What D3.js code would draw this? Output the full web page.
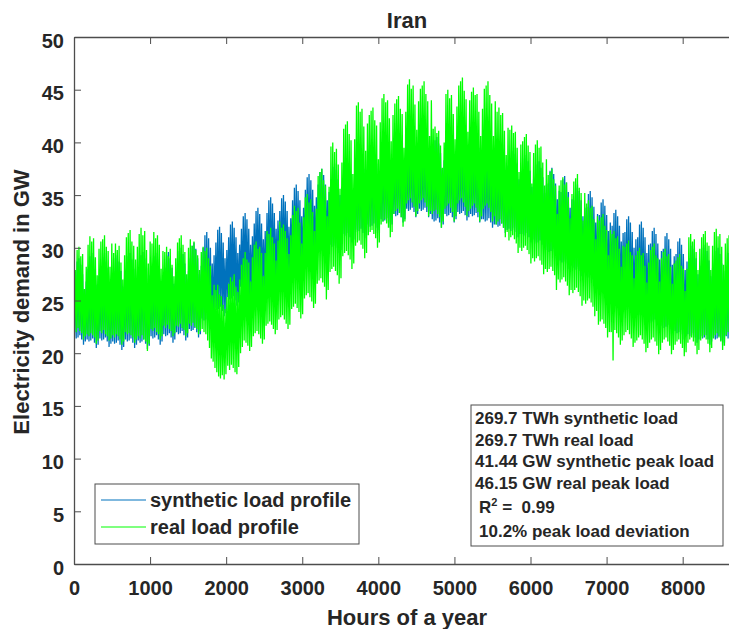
<!DOCTYPE html>
<html>
<head>
<meta charset="utf-8">
<script src="https://cdn.jsdelivr.net/npm/d3@7"></script>
<style>
body { margin: 0; background: #fff; }
text { font-family: "Liberation Sans", Arial, Helvetica, sans-serif; font-weight: bold; fill: #262626; }
</style>
</head>
<body>
<svg id="chart" width="729" height="629"></svg>
<script>
// daily low / daily high of the real profile (GW), two weeks per row
const realMin = [
  22.3,22.0,22.4,22.1,21.9,21.3,21.6, 21.8,21.6,21.9,21.7,21.5,20.9,21.2,
  22.1,21.9,22.2,21.8,21.6,21.2,21.4, 21.7,21.5,21.8,21.6,21.3,20.8,21.1,
  22.0,21.8,21.9,21.7,21.5,21.0,21.3, 21.6,21.4,21.7,21.3,21.1,20.2,20.9,
  22.3,22.1,22.4,22.0,21.8,21.3,21.6, 22.6,22.4,22.7,22.3,22.1,21.6,21.9,
  22.6,22.5,22.8,22.4,22.2,21.6,21.9, 22.8,22.6,22.9,22.5,22.3,21.8,22.1,
  22.3,22.0,21.8,21.2,20.5,19.5,19.2, 18.6,18.2,17.8,17.6,17.9,17.5,18.0,
  18.8,18.4,18.9,18.6,18.2,18.0,18.7, 20.0,20.6,21.2,21.0,20.7,20.2,20.6,
  21.6,21.9,22.1,21.8,21.4,20.9,21.3, 22.6,22.8,23.0,22.7,22.3,21.8,22.2,
  23.2,23.4,23.6,23.2,22.8,22.3,22.7, 24.2,24.4,24.7,24.3,23.9,23.3,23.7,
  25.2,25.5,25.7,25.3,24.9,24.3,24.7, 26.6,26.9,27.1,26.7,26.3,25.1,26.0,
  27.7,28.0,28.2,27.8,27.4,26.6,27.1, 29.2,29.5,29.7,29.3,28.9,28.0,28.5,
  30.2,30.5,30.7,30.3,29.9,29.0,29.5, 31.2,31.5,31.7,31.3,30.9,30.0,30.5,
  32.2,32.5,32.7,32.3,31.9,31.0,31.5, 33.2,33.5,33.7,33.3,32.9,32.0,32.5,
  34.2,34.5,34.7,34.3,33.9,33.0,33.5, 34.2,34.5,34.7,34.3,33.9,33.0,33.5,
  33.2,33.5,33.6,33.2,32.9,31.9,32.5, 33.7,34.0,34.2,33.8,33.4,32.5,33.0,
  34.2,34.5,34.7,34.3,33.9,33.0,33.5, 33.7,34.0,34.2,33.8,33.4,32.5,33.0,
  33.7,34.0,34.2,33.8,33.4,32.5,33.0, 32.2,32.5,32.7,32.3,31.9,31.0,31.5,
  30.7,31.0,31.2,30.8,30.4,29.5,30.0, 29.7,30.0,30.2,29.8,29.4,28.5,29.0,
  28.7,29.0,29.2,28.8,28.4,27.5,28.0, 27.7,28.0,28.2,27.8,27.4,26.0,27.0,
  26.7,27.0,27.2,26.8,26.4,25.5,26.0, 25.7,26.0,26.2,25.8,25.4,24.5,25.0,
  24.7,25.0,25.2,24.8,24.4,23.5,24.0, 22.7,23.0,23.2,22.8,22.4,21.5,22.0,
  22.0,19.3,22.2,21.9,21.5,20.8,21.2, 21.7,22.0,22.2,21.8,21.4,20.6,21.0,
  21.2,21.5,21.7,21.3,20.9,20.1,20.5, 21.0,21.3,21.5,21.1,20.7,19.9,20.3,
  21.0,21.3,21.5,21.1,20.7,19.9,20.3, 20.8,21.1,21.3,20.9,20.5,19.7,20.1,
  21.0,21.3,21.5,21.1,20.7,19.9,20.3, 21.2,21.5,21.7,21.3,20.9,20.1,20.5,
  21.4,21.7,21.9,21.5,21.1,20.3,20.7, 21.7,22.0,22.2,21.8,21.4,20.6,21.0,
  21.5
]
const realMax = [
  27.9,29.8,30.1,29.2,29.4,26.1,28.2, 30.3,31.1,30.6,30.9,29.1,27.4,29.9,
  30.6,30.8,31.2,30.1,29.7,28.2,30.4, 29.5,30.4,29.8,30.2,28.6,27.0,29.3,
  31.0,31.4,31.7,30.6,30.2,28.9,30.1, 31.3,31.9,31.2,31.6,29.8,28.5,30.6,
  30.4,31.5,30.9,31.2,30.3,28.0,29.7, 29.6,30.1,29.2,29.9,28.4,27.3,29.0,
  30.5,30.9,31.2,30.3,29.6,27.5,30.0, 30.8,30.2,30.6,29.8,29.3,27.9,29.6,
  30.1,29.7,30.0,29.0,28.3,25.5,26.5, 26.0,26.5,25.6,25.4,24.6,24.2,25.3,
  26.6,27.2,26.8,27.5,26.3,25.8,27.0, 28.4,29.0,29.6,28.9,28.6,26.8,29.1,
  30.3,30.6,29.9,30.1,29.5,27.3,29.5, 31.6,31.3,31.9,31.0,30.4,28.8,30.7,
  32.5,31.9,32.2,31.6,30.9,29.4,31.2, 33.1,34.0,33.5,33.8,32.4,30.4,32.9,
  34.8,35.1,34.3,34.6,33.4,31.6,33.7, 36.8,37.2,37.5,36.4,35.9,33.0,35.8,
  39.6,40.0,39.1,39.4,37.9,35.6,38.1, 41.3,41.7,42.0,40.8,40.2,37.0,40.3,
  43.5,43.8,42.9,43.2,41.5,39.2,41.8, 42.6,43.0,43.3,42.1,41.6,38.4,41.9,
  44.2,44.6,43.8,44.0,42.3,40.1,42.6, 43.7,44.1,44.4,43.2,42.7,39.5,42.9,
  45.5,46.0,45.1,45.4,43.6,41.2,43.9, 45.1,45.4,45.8,44.6,43.9,40.6,44.0,
  41.3,41.5,40.9,41.1,39.7,37.6,40.0, 44.6,45.0,44.2,44.5,42.7,40.3,43.4,
  45.4,45.8,46.15,44.9,44.1,41.0,44.0, 44.8,45.2,44.5,44.6,42.9,40.6,43.2,
  45.1,45.4,45.8,44.5,43.7,40.6,43.9, 42.9,43.3,42.6,42.8,41.1,38.8,41.4,
  41.2,41.6,40.9,41.0,39.5,37.2,39.8, 40.1,40.5,40.8,39.7,39.1,36.1,39.0,
  39.8,40.2,39.5,39.6,38.1,35.9,38.4, 36.9,37.2,37.5,36.5,35.9,33.2,35.9,
  36.4,36.7,36.0,36.2,34.8,32.8,35.1, 36.3,36.6,37.0,35.7,35.2,32.6,35.2,
  34.2,34.5,33.8,34.0,32.7,30.8,33.0, 32.6,32.9,33.2,32.1,31.7,29.3,31.7,
  31.3,31.6,30.9,31.1,29.9,28.2,30.2, 30.1,30.4,30.7,29.6,29.3,27.1,29.3,
  29.7,30.0,29.3,29.5,28.3,26.7,28.6, 29.8,30.1,30.4,29.3,29.0,26.8,29.0,
  29.6,29.9,29.2,29.4,28.2,26.6,28.5, 28.8,29.1,29.4,28.3,28.0,25.9,28.0,
  31.0,31.3,30.6,30.8,29.6,27.9,29.9, 31.0,31.3,31.6,30.5,30.2,27.9,30.2,
  31.5,31.8,31.1,31.3,30.1,28.4,30.4, 30.9,31.2,31.5,30.4,30.1,27.8,30.1,
  30.5
]

// daily low / daily high of the synthetic profile (GW)
const synthMin = [
  21.6,21.4,21.5,21.7,21.3,20.8,21.1, 21.3,21.1,21.2,21.4,21.0,20.5,20.8,
  21.4,21.2,21.3,21.5,21.1,20.6,20.9, 21.1,20.9,21.0,21.2,20.8,20.3,20.6,
  21.3,21.1,21.2,21.4,21.0,20.5,20.8, 21.2,21.0,21.1,21.3,20.9,20.4,20.7,
  21.6,21.4,21.5,21.7,21.3,20.8,21.1, 21.8,21.6,21.7,21.9,21.5,21.0,21.3,
  22.0,21.8,21.9,22.1,21.7,21.2,21.5, 22.3,22.1,22.2,22.4,22.0,21.5,21.8,
  23.3,23.1,23.2,23.4,23.0,22.5,22.8, 24.3,24.1,24.2,24.4,24.0,23.5,23.8,
  25.3,25.1,25.2,25.4,25.0,24.5,24.8, 26.3,26.1,26.2,26.4,26.0,25.5,25.8,
  26.8,26.6,26.7,26.9,26.5,26.0,26.3, 27.3,27.1,27.2,27.4,27.0,26.5,26.8,
  27.8,27.6,27.7,27.9,27.5,27.0,27.3, 28.6,28.4,28.5,28.7,28.3,27.8,28.1,
  29.3,29.1,29.2,29.4,29.0,28.5,28.8, 29.8,29.6,29.7,29.9,29.5,29.0,29.3,
  30.3,30.1,30.2,30.4,30.0,29.5,29.8, 31.3,31.1,31.2,31.4,31.0,30.5,30.8,
  31.7,31.5,31.6,31.8,31.4,30.9,31.2, 32.2,32.0,32.1,32.3,31.9,31.4,31.7,
  32.7,32.5,32.6,32.8,32.4,31.9,32.2, 33.2,33.0,33.1,33.3,32.9,32.4,32.7,
  33.7,33.5,33.6,33.8,33.4,32.9,33.2, 33.7,33.5,33.6,33.8,33.4,32.9,33.2,
  32.7,32.5,32.6,32.8,32.4,31.9,32.2, 33.2,33.0,33.1,33.3,32.9,32.4,32.7,
  33.4,33.2,33.3,33.5,33.1,32.6,32.9, 33.2,33.0,33.1,33.3,32.9,32.4,32.7,
  32.7,32.5,32.6,32.8,32.4,31.9,32.2, 32.2,32.0,32.1,32.3,31.9,31.4,31.7,
  31.8,31.6,31.7,31.9,31.5,31.0,31.3, 31.3,31.1,31.2,31.4,31.0,30.5,30.8,
  30.6,30.4,30.5,30.7,30.3,29.8,30.1, 29.8,29.6,29.7,29.9,29.5,29.0,29.3,
  28.8,28.6,28.7,28.9,28.5,28.0,28.3, 28.1,27.9,28.0,28.2,27.8,27.3,27.6,
  27.3,27.1,27.2,27.4,27.0,26.5,26.8, 26.3,26.1,26.2,26.4,26.0,25.5,25.8,
  25.3,25.1,25.2,25.4,25.0,24.5,24.8, 24.3,24.1,24.2,24.4,24.0,23.5,23.8,
  23.8,23.6,23.7,23.9,23.5,23.0,23.3, 23.1,22.9,23.0,23.2,22.8,22.3,22.6,
  22.6,22.4,22.5,22.7,22.3,21.8,22.1, 22.1,21.9,22.0,22.2,21.8,21.3,21.6,
  21.8,21.6,21.7,21.9,21.5,21.0,21.3, 21.6,21.4,21.5,21.7,21.3,20.8,21.1,
  21.5,21.3,21.4,21.6,21.2,20.7,21.0, 21.6,21.4,21.5,21.7,21.3,20.8,21.1,
  21.3
]
const synthMax = [
  27.5,28.7,29.0,28.4,27.5,26.0,26.8, 28.0,29.2,29.5,28.9,28.0,26.5,27.3,
  28.2,29.1,29.5,28.7,28.1,26.4,27.4, 27.8,29.0,29.3,28.7,27.8,26.3,27.1,
  28.0,29.2,29.5,28.9,28.0,26.5,27.3, 28.1,29.3,29.6,29.0,28.1,26.6,27.4,
  28.0,29.2,29.5,28.9,28.0,26.5,27.3, 28.1,29.3,29.6,29.0,28.1,26.6,27.4,
  28.5,29.7,30.0,29.4,28.5,27.0,27.8, 29.0,30.2,30.5,29.9,29.0,27.5,28.3,
  30.0,31.2,31.5,30.9,30.0,28.5,29.3, 30.5,31.7,32.0,31.4,30.5,29.0,29.8,
  31.0,32.2,32.5,31.9,31.0,29.5,30.3, 31.8,33.0,33.3,32.7,31.8,30.3,31.1,
  32.3,33.5,33.8,33.2,32.3,30.8,31.6, 33.3,34.5,34.8,34.2,33.3,31.8,32.6,
  33.5,34.7,35.0,34.4,33.5,32.0,32.8, 34.5,35.7,36.0,35.4,34.5,33.0,33.8,
  35.5,36.7,37.0,36.4,35.5,34.0,34.8, 36.0,37.2,37.5,36.9,36.0,34.5,35.3,
  36.5,37.7,38.0,37.4,36.5,35.0,35.8, 37.0,38.2,38.5,37.9,37.0,35.5,36.3,
  37.5,38.7,39.0,38.4,37.5,36.0,36.8, 38.0,39.2,39.5,38.9,38.0,36.5,37.3,
  38.5,39.7,40.0,39.4,38.5,37.0,37.8, 38.8,40.0,40.3,39.7,38.8,37.3,38.1,
  39.3,40.5,40.8,40.2,39.3,37.8,38.6, 39.5,40.7,41.0,40.4,39.5,38.0,38.8,
  39.0,40.2,40.5,39.9,39.0,37.5,38.3, 39.5,40.7,41.0,40.4,39.5,38.0,38.8,
  39.9,41.1,41.44,40.8,39.9,38.4,39.2, 39.5,40.7,41.0,40.4,39.5,38.0,38.8,
  39.0,40.2,40.5,39.9,39.0,37.5,38.3, 38.5,39.7,40.0,39.4,38.5,37.0,37.8,
  38.0,39.2,39.5,38.9,38.0,36.5,37.3, 37.3,38.5,38.8,38.2,37.3,35.8,36.6,
  36.7,37.9,38.2,37.6,36.7,35.2,36.0, 36.1,37.3,37.6,37.0,36.1,34.6,35.4,
  35.3,36.5,36.8,36.2,35.3,33.8,34.6, 34.5,35.7,36.0,35.4,34.5,33.0,33.8,
  33.9,35.1,35.4,34.8,33.9,32.4,33.2, 33.1,34.3,34.6,34.0,33.1,31.6,32.4,
  32.1,33.3,33.6,33.0,32.1,30.6,31.4, 31.5,32.7,33.0,32.4,31.5,30.0,30.8,
  31.0,32.2,32.5,31.9,31.0,29.5,30.3, 30.4,31.6,31.9,31.3,30.4,28.9,29.7,
  29.9,31.1,31.4,30.8,29.9,28.4,29.2, 29.4,30.6,30.9,30.3,29.4,27.9,28.7,
  29.0,30.2,30.5,29.9,29.0,27.5,28.3, 28.8,30.0,30.3,29.7,28.8,27.3,28.1,
  28.5,29.7,30.0,29.4,28.5,27.0,27.8, 28.3,29.5,29.8,29.2,28.3,26.8,27.6,
  28.8
]

const xTickValues = [0, 1000, 2000, 3000, 4000, 5000, 6000, 7000, 8000]
const yTickValues = [0, 5, 10, 15, 20, 25, 30, 35, 40, 45, 50]
const seriesNames = ['synthetic load profile', 'real load profile']
const statsLines = ['269.7 TWh synthetic load', '269.7 TWh real load',
  '41.44 GW synthetic peak load', '46.15 GW real peak load']
const r2Value = '0.99'
const deviationLine = '10.2% peak load deviation'

const svg = d3.select('#chart')
const x = d3.scaleLinear().domain([0, 8760]).range([74, 740.5])
const y = d3.scaleLinear().domain([0, 50]).range([564, 37])

// one trough and one peak per day
function zigzag(mins, maxs) {
  const pts = []
  mins.forEach(function(m, d) {
    pts.push([d * 24 + 5, m])
    pts.push([d * 24 + 17, maxs[d]])
  })
  return pts
}

svg.append('clipPath').attr('id', 'plotclip')
  .append('rect').attr('x', 74).attr('y', 37).attr('width', 700).attr('height', 527)

const line = d3.line().x(d => x(d[0])).y(d => y(d[1]))

const plot = svg.append('g').attr('clip-path', 'url(#plotclip)')
plot.append('path')
  .attr('d', line(zigzag(synthMin, synthMax)))
  .attr('fill', 'none').attr('stroke', '#0072BD').attr('stroke-width', 1.3)
plot.append('path')
  .attr('d', line(zigzag(realMin, realMax)))
  .attr('fill', 'none').attr('stroke', '#00FF00').attr('stroke-width', 1.3)

// axes
const axisColor = '#4d4d4d'
const gx = svg.append('g').attr('transform', 'translate(0,564)')
  .call(d3.axisBottom(x).tickValues(xTickValues).tickFormat(d3.format('d'))
    .tickSizeInner(-7).tickSizeOuter(0).tickPadding(17))
const gxTop = svg.append('g').attr('transform', 'translate(0,37)')
  .call(d3.axisTop(x).tickValues(xTickValues.slice(1)).tickSizeInner(-7).tickSizeOuter(0).tickFormat(''))
const gy = svg.append('g').attr('transform', 'translate(74,0)')
  .call(d3.axisLeft(y).tickValues(yTickValues).tickSizeInner(-7).tickSizeOuter(0).tickPadding(10))

;[gx, gxTop, gy].forEach(function(g) {
  g.select('.domain').attr('stroke', axisColor).attr('stroke-width', 1.3)
  g.selectAll('.tick line').attr('stroke', axisColor).attr('stroke-width', 1)
  g.selectAll('.tick text').style('font-size', '20px').attr('fill', '#262626')
})
gy.selectAll('.tick text').attr('dy', '0.5em')
gx.select('.tick line').remove()

// title and labels
svg.append('text').attr('x', 407).attr('y', 28).attr('text-anchor', 'middle')
  .style('font-size', '22px').attr('fill', '#000').text('Iran')
svg.append('text').attr('x', 407).attr('y', 625).attr('text-anchor', 'middle')
  .style('font-size', '22px').text('Hours of a year')
svg.append('text').attr('transform', 'translate(29,302) rotate(-90)').attr('text-anchor', 'middle')
  .style('font-size', '22px').text('Electricity demand in GW')

// legend
const legend = svg.append('g')
legend.append('rect').attr('x', 95).attr('y', 484).attr('width', 264).attr('height', 60)
  .attr('fill', '#fff').attr('stroke', axisColor).attr('stroke-width', 1)
const legColors = ['#0072BD', '#00FF00']
seriesNames.forEach(function(name, i) {
  const ly = 500 + i * 27
  legend.append('line').attr('x1', 101).attr('x2', 146).attr('y1', ly).attr('y2', ly)
    .attr('stroke', legColors[i]).attr('stroke-width', 1.2)
  legend.append('text').attr('x', 150).attr('y', ly + 7).style('font-size', '20px').text(name)
})

// stats box
const stats = svg.append('g')
stats.append('rect').attr('x', 471).attr('y', 405).attr('width', 252).attr('height', 141)
  .attr('fill', '#fff').attr('stroke', axisColor).attr('stroke-width', 1)
const statBase = [424, 446, 467, 489]
statsLines.forEach(function(s, i) {
  stats.append('text').attr('x', 475).attr('y', statBase[i]).style('font-size', '17px').text(s)
})
const r2 = stats.append('text').attr('x', 479).attr('y', 513).style('font-size', '17px')
  .style('white-space', 'pre')
r2.append('tspan').text('R')
r2.append('tspan').attr('dy', -7).style('font-size', '11px').text('2')
r2.append('tspan').attr('dy', 7).text(' =  ' + r2Value)
stats.append('text').attr('x', 479).attr('y', 537).style('font-size', '17px').text(deviationLine)
</script>
</body>
</html>
